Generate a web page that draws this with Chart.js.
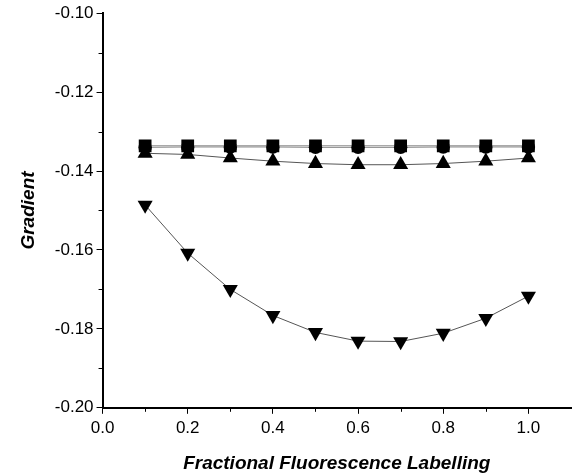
<!DOCTYPE html>
<html>
<head>
<meta charset="utf-8">
<script src="https://cdn.jsdelivr.net/npm/chart.js@4/dist/chart.umd.min.js"></script>
<style>
  html, body { margin: 0; padding: 0; background: #fff; }
  #graph_div { width: 580px; height: 475px; }
</style>
</head>
<body>
<div id="graph_div"><canvas id="my_chart"></canvas></div>
<script>
// fractional labelling (x)
const labelling = [0.1, 0.2, 0.3, 0.4, 0.5, 0.6, 0.7, 0.8, 0.9, 1.0];

// gradient values, one array per series
const squares   = [-0.1336, -0.1336, -0.1336, -0.1336, -0.1336, -0.1336, -0.1336, -0.1336, -0.1336, -0.1336];
const circles   = [-0.1340, -0.1339, -0.1339, -0.1339, -0.1340, -0.1340, -0.1340, -0.1339, -0.1339, -0.1339];
const triangles = [-0.1355, -0.1358, -0.1367, -0.1375, -0.1381, -0.1384, -0.1384, -0.1381, -0.1375, -0.1367];
const inverted  = [-0.1486, -0.1608, -0.1700, -0.1766, -0.1809, -0.1831, -0.1832, -0.1811, -0.1773, -0.1717];

const y_ticks = [-0.20, -0.18, -0.16, -0.14, -0.12, -0.10];
const x_ticks = [0.0, 0.2, 0.4, 0.6, 0.8, 1.0];
const y_minor = [-0.19, -0.17, -0.15, -0.13, -0.11];
const x_minor = [0.1, 0.3, 0.5, 0.7, 0.9];

function to_points(values) {
  return labelling.map(function(x, i) { return { x: x, y: values[i] }; });
}

function make_set(name, values, style, radius, rotation, line) {
  return {
    label: name,
    data: to_points(values),
    showLine: true,
    borderColor: line,
    borderWidth: 1,
    pointStyle: style,
    pointRadius: radius,
    pointRotation: rotation,
    pointBackgroundColor: '#000',
    pointBorderColor: '#000',
    pointBorderWidth: 0
  };
}

function on_tick_list(list, value) {
  return list.some(function(t) { return Math.abs(t - value) < 1e-6; });
}

// short ticks between the labelled ones
const minor_ticks = {
  id: 'minor_ticks',
  afterDraw: function(chart) {
    const ctx = chart.ctx;
    const xs = chart.scales.x, ys = chart.scales.y;
    ctx.save();
    ctx.strokeStyle = '#000';
    ctx.lineWidth = 1;
    ctx.beginPath();
    x_minor.forEach(function(v) {
      const px = Math.round(xs.getPixelForValue(v)) + 0.5;
      ctx.moveTo(px, ys.bottom);
      ctx.lineTo(px, ys.bottom + 4);
    });
    y_minor.forEach(function(v) {
      const py = Math.round(ys.getPixelForValue(v)) + 0.5;
      ctx.moveTo(xs.left, py);
      ctx.lineTo(xs.left - 4, py);
    });
    ctx.stroke();
    ctx.restore();
  }
};

function create_chart() {
  const data = {
    datasets: [
      make_set('squares', squares, 'rect', 9, 0, '#888'),
      make_set('circles', circles, 'circle', 6.7, 0, '#888'),
      make_set('triangles', triangles, 'triangle', 8.7, 0, '#555'),
      make_set('inverted', inverted, 'triangle', 8.7, 180, '#555')
    ]
  };

  const tick_font = { family: 'Liberation Sans', size: 17 };
  const title_font = { family: 'Liberation Sans', size: 19, weight: 'bold', style: 'italic' };

  const config = {
    type: 'scatter',
    data,
    plugins: [minor_ticks],
    options: {
      responsive: true,
      maintainAspectRatio: false,
      animation: false,
      layout: { padding: { top: 12, left: 17, right: 0, bottom: 0 } },
      plugins: { legend: { display: false }, tooltip: { enabled: false } },
      scales: {
        x: {
          type: 'linear',
          min: 0,
          max: 1.1,
          border: { color: '#000', width: 2 },
          grid: {
            drawOnChartArea: false,
            tickLength: 6,
            lineWidth: 1,
            tickColor: function(c) { return c.tick && on_tick_list(x_ticks, c.tick.value) ? '#000' : 'rgba(0,0,0,0)'; }
          },
          ticks: {
            stepSize: 0.1,
            color: '#000',
            font: tick_font,
            padding: 4,
            maxRotation: 0,
            autoSkip: false,
            callback: function(v) { return on_tick_list(x_ticks, v) ? v.toFixed(1) : ''; }
          },
          title: { display: true, text: 'Fractional Fluorescence Labelling', color: '#000', font: title_font, padding: { top: 10, bottom: 0 } },
          afterFit: function(scale) { scale.paddingRight = 0; }
        },
        y: {
          min: -0.20,
          max: -0.10,
          border: { color: '#000', width: 2 },
          grid: {
            drawOnChartArea: false,
            tickLength: 6,
            lineWidth: 1,
            tickColor: function(c) { return c.tick && on_tick_list(y_ticks, c.tick.value) ? '#000' : 'rgba(0,0,0,0)'; }
          },
          ticks: {
            stepSize: 0.01,
            color: '#000',
            font: tick_font,
            padding: 3,
            autoSkip: false,
            callback: function(v) { return on_tick_list(y_ticks, v) ? v.toFixed(2) : ''; }
          },
          title: { display: true, text: 'Gradient', color: '#000', font: title_font, padding: { top: 0, bottom: 12 } }
        }
      }
    }
  };

  const canv = document.getElementById('my_chart');
  new Chart(canv.getContext('2d'), config);
}

create_chart();
</script>
</body>
</html>
